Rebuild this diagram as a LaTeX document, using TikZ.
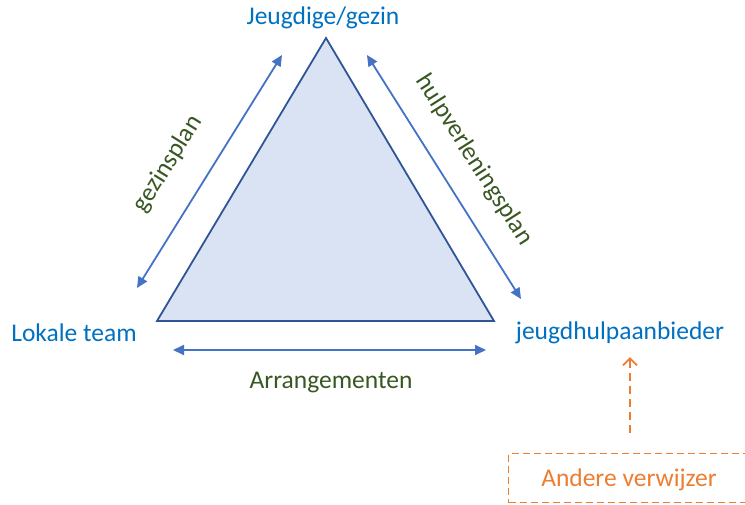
\documentclass[tikz,border=0pt]{standalone}
\usepackage{fontspec}
\setmainfont{Carlito}
\usetikzlibrary{arrows.meta}
\definecolor{tblue}{RGB}{0,112,192}
\definecolor{tgreen}{RGB}{56,87,35}
\definecolor{torange}{RGB}{237,125,49}
\definecolor{ablue}{RGB}{68,114,196}
\definecolor{tfill}{RGB}{218,227,243}
\definecolor{tedge}{RGB}{47,85,151}
\tikzset{
  bluelabel/.style={text=tblue, font=\fontsize{25.5}{30}\selectfont, inner sep=0pt},
  greenlabel/.style={text=tgreen, font=\fontsize{25.5}{30}\selectfont, inner sep=0pt},
  twoway/.style={draw=ablue, line width=1.8pt, {Triangle[length=11pt,width=10pt]}-{Triangle[length=11pt,width=10pt]}},
  refarrow/.style={draw=torange, line width=1.8pt, dash pattern=on 8pt off 5pt, -{Straight Barb[length=7pt,width=14pt]}},
  refbox/.style={draw=torange, line width=1.3pt, dash pattern=on 7pt off 4pt, minimum width=250pt, minimum height=49pt, anchor=north west, inner sep=0pt}
}
\begin{document}
\begin{tikzpicture}[x=1pt,y=-1pt]
\useasboundingbox (0,0) rectangle (745,504);
% triangle
\coordinate (top) at (326,38);
\coordinate (bl) at (157,321);
\coordinate (br) at (494,321);
\filldraw[fill=tfill, draw=tedge, line width=1.8pt, line join=miter] (top) -- (br) -- (bl) -- cycle;
% labels
\node[bluelabel] (jg) at (323,18) {Jeugdige/gezin};
\node[bluelabel] (lt) at (74,333) {Lokale team};
\node[bluelabel] (jh) at (620,333) {jeugdhulpaanbieder};
% arrows
\coordinate (l1) at (137,288);
\coordinate (l2) at (282,55);
\coordinate (r1) at (367,55);
\coordinate (r2) at (521,299);
\coordinate (b1) at (173,350);
\coordinate (b2) at (486,350);
\draw[twoway] (l1) -- (l2);
\draw[twoway] (r1) -- (r2);
\draw[twoway] (b1) -- (b2);
\node[greenlabel, rotate=58] (gp) at (168,164) {gezinsplan};
\node[greenlabel, rotate=-57.5] (hp) at (474,160) {hulpverleningsplan};
\node[greenlabel] (ar) at (331,383) {Arrangementen};
% referrer
\node[refbox] (av) at (508,453) {};
\node[text=torange, font=\fontsize{25.5}{30}\selectfont, inner sep=0pt] (avt) at (629,480) {Andere verwijzer};
\coordinate (a1) at (630,433);
\coordinate (a2) at (630,357);
\draw[refarrow] (a1) -- (a2);
\end{tikzpicture}
\end{document}
